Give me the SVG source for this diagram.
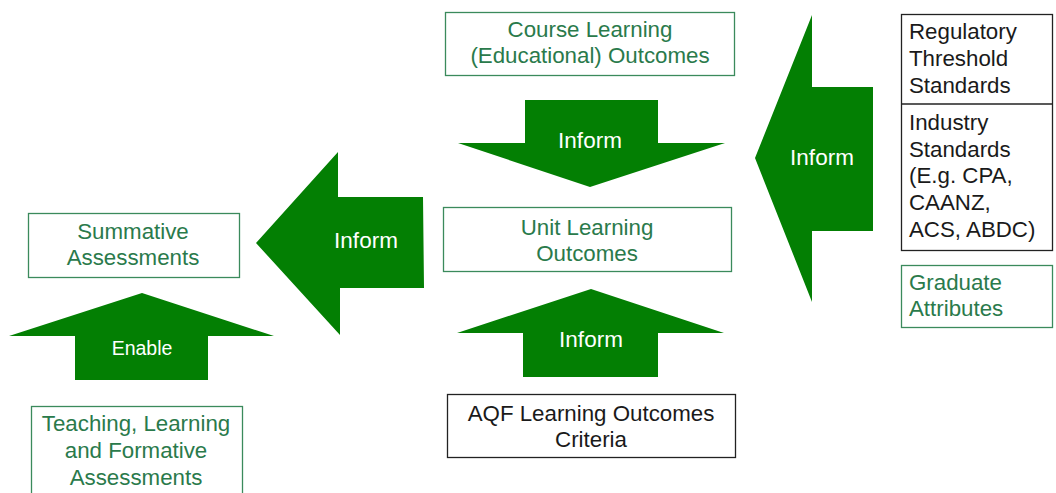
<svg xmlns="http://www.w3.org/2000/svg" width="1056" height="493" viewBox="0 0 1056 493">
<style>
.box{fill:#fff;stroke:#3b8a5c;stroke-width:1.3}
.bbox{fill:#fff;stroke:#222;stroke-width:1.3}
.gt{font-family:"Liberation Sans",Arial,sans-serif;font-size:22.3px;fill:#2a7a4b}
.kt{font-family:"Liberation Sans",Arial,sans-serif;font-size:22.3px;fill:#1a1a1a}
.wt{font-family:"Liberation Sans",Arial,sans-serif;font-size:22.5px;fill:#fff;text-anchor:middle}
.arr{fill:#037f03}
</style>
<rect width="1056" height="493" fill="#fff"/>
<g id="connectors">
  <g id="arrow-course-unit">
    <polygon class="arr" points="525,100 658,100 658,143 725,143 590,187 458,143 525,143"/>
    <text class="wt" x="590" y="148">Inform</text>
  </g>
  <g id="arrow-standards-course">
    <polygon class="arr" points="755,158 812,15 812,87 873,87 873,231 812,231 812,302"/>
    <text class="wt" x="822" y="165">Inform</text>
  </g>
  <g id="arrow-unit-summative">
    <polygon class="arr" points="256,243 338,152 338,197 423,197 424,288 340,288 340,335"/>
    <text class="wt" x="366" y="248">Inform</text>
  </g>
  <g id="arrow-aqf-unit">
    <polygon class="arr" points="591,289 724,333 658,333 658,377 523,377 523,333 457,333"/>
    <text class="wt" x="591" y="347">Inform</text>
  </g>
  <g id="arrow-teaching-summative">
    <polygon class="arr" points="142,293 274,336 208,336 208,380 75,380 75,336 9,336"/>
    <text class="wt" x="142" y="355" style="font-size:19.5px">Enable</text>
  </g>
</g>
<g id="node-course">
  <rect class="box" x="445.5" y="12.5" width="289" height="63"/>
  <text class="gt" x="590" y="37" text-anchor="middle">Course Learning</text>
  <text class="gt" x="590" y="63" text-anchor="middle">(Educational) Outcomes</text>
</g>
<g id="node-standards">
  <rect class="bbox" x="901.5" y="14.5" width="151" height="236"/>
  <line x1="901.5" y1="104" x2="1052.5" y2="104" stroke="#222" stroke-width="1.3"/>
  <text class="kt" x="909" y="39">Regulatory</text>
  <text class="kt" x="909" y="66">Threshold</text>
  <text class="kt" x="909" y="93">Standards</text>
  <text class="kt" x="909" y="130">Industry</text>
  <text class="kt" x="909" y="157">Standards</text>
  <text class="kt" x="909" y="183">(E.g. CPA,</text>
  <text class="kt" x="909" y="210">CAANZ,</text>
  <text class="kt" x="909" y="237">ACS, ABDC)</text>
</g>
<g id="node-graduate">
  <rect class="box" x="901.5" y="265.5" width="151" height="62"/>
  <text class="gt" x="909" y="290">Graduate</text>
  <text class="gt" x="909" y="316">Attributes</text>
</g>
<g id="node-unit">
  <rect class="box" x="443.5" y="207.5" width="288" height="64"/>
  <text class="gt" x="587" y="235" text-anchor="middle">Unit Learning</text>
  <text class="gt" x="587" y="261" text-anchor="middle">Outcomes</text>
</g>
<g id="node-aqf">
  <rect class="bbox" x="447.5" y="394.5" width="288" height="63"/>
  <text class="kt" x="591" y="421" text-anchor="middle">AQF Learning Outcomes</text>
  <text class="kt" x="591" y="447" text-anchor="middle">Criteria</text>
</g>
<g id="node-summative">
  <rect class="box" x="28.5" y="213.5" width="211" height="64"/>
  <text class="gt" x="133" y="239" text-anchor="middle">Summative</text>
  <text class="gt" x="133" y="265" text-anchor="middle">Assessments</text>
</g>
<g id="node-teaching">
  <rect class="box" x="31.5" y="406.5" width="211" height="100"/>
  <text class="gt" x="136" y="431" text-anchor="middle">Teaching, Learning</text>
  <text class="gt" x="136" y="458" text-anchor="middle">and Formative</text>
  <text class="gt" x="136" y="485" text-anchor="middle">Assessments</text>
</g>
</svg>
